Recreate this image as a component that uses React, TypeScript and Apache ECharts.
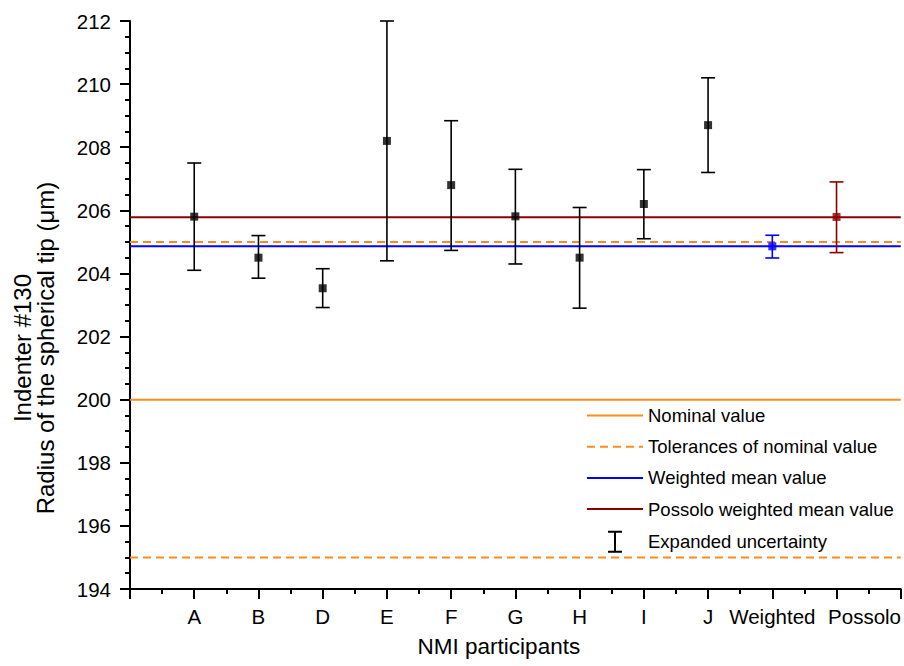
import React, { useEffect, useRef } from "react";
import * as echarts from "echarts";

const categories = ["A", "B", "D", "E", "F", "G", "H", "I", "J", "Weighted", "Possolo"];
const values = [205.8, 204.5, 203.53, 208.2, 206.8, 205.81, 204.5, 206.2, 208.7, 204.86, 205.79];
const lowers = [204.1, 203.85, 202.92, 204.4, 204.73, 204.3, 202.9, 205.1, 207.2, 204.49, 204.66];
const uppers = [207.5, 205.2, 204.15, 212.0, 208.84, 207.3, 206.09, 207.29, 210.2, 205.21, 206.9];
const pointColors = ["#000", "#000", "#000", "#000", "#000", "#000", "#000", "#000", "#000", "#0000FF", "#8B0000"];

const nominalValue = 200;
const tolerances = [195, 205];
const weightedMean = 204.86;
const possoloMean = 205.78;

const FONT = "'Liberation Sans', Arial, sans-serif";
const ORANGE = "#FF8C1A";
const BLUE = "#0000FF";
const DARKRED = "#8B0000";

export default function App() {
  const ref = useRef<HTMLDivElement>(null);
  useEffect(() => {
    if (!ref.current) return;
    const chart = echarts.init(ref.current, null, { renderer: "svg" });
    const hline = (name: string, v: number, color: string, type: any, width: number) => ({
      type: "line",
      name,
      data: [[0, v], [12, v]],
      symbol: "none",
      lineStyle: { color, type, width },
      itemStyle: { color },
      z: 2,
      silent: true,
    });
    const option: any = {
      animation: false,
      textStyle: { fontFamily: FONT },
      grid: { left: 130, right: 1, top: 21, bottom: 77, containLabel: false },
      xAxis: {
        type: "value",
        min: 0,
        max: 12,
        interval: 1,
        name: "NMI participants",
        nameLocation: "middle",
        nameGap: 46,
        nameTextStyle: { fontSize: 22.5, color: "#000", fontFamily: FONT, padding: [0, 33, 0, 0] },
        axisLine: { show: true, lineStyle: { color: "#000", width: 2 } },
        axisTick: { show: true, length: 10, inside: false, lineStyle: { color: "#000", width: 2 } },
        minorTick: { show: true, splitNumber: 2, length: 5, lineStyle: { color: "#000", width: 2 } },
        splitLine: { show: false },
        axisLabel: {
          margin: 17,
          fontSize: 20.5,
          color: "#000",
          fontFamily: FONT,
          formatter: (v: number) => {
            const idx = Math.round(v) - 1;
            if (idx < 0 || idx >= categories.length) return "";
            if (idx === categories.length - 1) return "{p|" + categories[idx] + "}";
            return categories[idx];
          },
          rich: { p: { fontSize: 20.5, color: "#000", fontFamily: FONT, padding: [0, 0, 0, 56] } },
        },
      },
      yAxis: {
        type: "value",
        min: 194,
        max: 212,
        interval: 2,
        axisLine: { show: true, lineStyle: { color: "#000", width: 2 } },
        axisTick: { show: true, length: 10, lineStyle: { color: "#000", width: 2 } },
        minorTick: { show: true, splitNumber: 4, length: 5, lineStyle: { color: "#000", width: 2 } },
        splitLine: { show: false },
        axisLabel: { margin: 19, fontSize: 20.5, color: "#000", fontFamily: FONT },
      },
      legend: {
        show: true,
        orient: "vertical",
        left: 586,
        top: 406,
        padding: 0,
        itemWidth: 56,
        itemHeight: 22,
        itemGap: 12.2,
        textStyle: { fontSize: 18.5, color: "#000", fontFamily: FONT },
        selectedMode: false,
        data: [
          { name: "Nominal value", itemStyle: { opacity: 0 } },
          { name: "Tolerances of nominal value", itemStyle: { opacity: 0 } },
          { name: "Weighted mean value", itemStyle: { opacity: 0 } },
          { name: "Possolo weighted mean value", itemStyle: { opacity: 0 } },
          {
            name: "Expanded uncertainty",
            icon: "path://M-21,0h0.01v0.01h-0.01z M35,22h0.01v0.01h-0.01z M0,0H14V2H8V20H14V22H0V20H6V2H0Z",
            itemStyle: { color: "#000", opacity: 1 },
          },
        ],
      },
      graphic: [
        {
          type: "text",
          x: 34,
          y: 348,
          rotation: Math.PI / 2,
          style: {
            text: "Indenter #130\nRadius of the spherical tip (μm)",
            fontSize: 24,
            lineHeight: 23,
            fontFamily: FONT,
            align: "center",
            verticalAlign: "middle",
            fill: "#000",
          },
        },
      ],
      series: [
        hline("Nominal value", nominalValue, ORANGE, "solid", 2),
        hline("Tolerances of nominal value", tolerances[0], ORANGE, [8, 5], 2),
        hline("Tolerances of nominal value", tolerances[1], ORANGE, [8, 5], 2),
        hline("Weighted mean value", weightedMean, BLUE, "solid", 2),
        hline("Possolo weighted mean value", possoloMean, DARKRED, "solid", 2),
        {
          type: "custom",
          name: "Expanded uncertainty",
          itemStyle: { color: "#000" },
          z: 3,
          data: categories.map((_, i) => [i + 1, lowers[i], uppers[i]]),
          renderItem: (params: any, api: any) => {
            const i = params.dataIndex;
            const x = api.value(0);
            const lo = api.coord([x, api.value(1)]);
            const hi = api.coord([x, api.value(2)]);
            const color = pointColors[i];
            const half = 7;
            const st = { stroke: color, lineWidth: 1.6 };
            return {
              type: "group",
              children: [
                { type: "line", shape: { x1: lo[0], y1: lo[1], x2: hi[0], y2: hi[1] }, style: st },
                { type: "line", shape: { x1: lo[0] - half, y1: lo[1], x2: lo[0] + half, y2: lo[1] }, style: st },
                { type: "line", shape: { x1: hi[0] - half, y1: hi[1], x2: hi[0] + half, y2: hi[1] }, style: st },
              ],
            };
          },
        },
        {
          type: "scatter",
          name: "Measured value",
          symbol: "rect",
          symbolSize: 8,
          z: 4,
          data: categories.map((_, i) => ({ value: [i + 1, values[i]], itemStyle: { color: pointColors[i] } })),
        },
      ],
    };
    chart.setOption(option);
    return () => chart.dispose();
  }, []);
  return <div ref={ref} style={{ position: "absolute", left: 0, top: 0, width: 904, height: 666 }} />;
}
